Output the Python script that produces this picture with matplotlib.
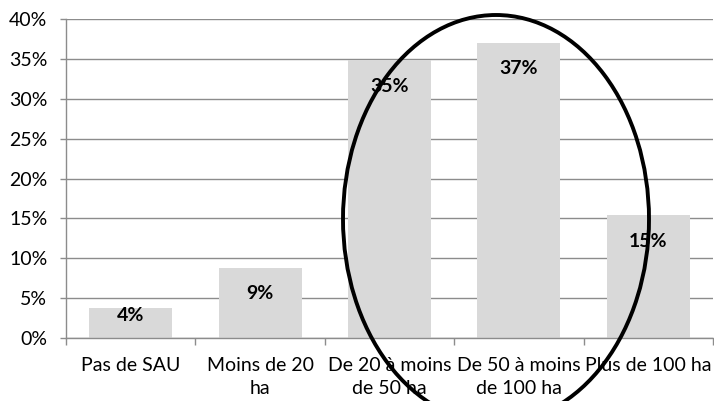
import matplotlib
matplotlib.use("Agg")
import matplotlib.pyplot as plt
from matplotlib.patches import Ellipse
from matplotlib.ticker import FuncFormatter, MultipleLocator

# ── data ──────────────────────────────────────────────────────────────────────
CATEGORIES = ["Pas de SAU", "Moins de 20\nha", "De 20 à moins\nde 50 ha",
              "De 50 à moins\nde 100 ha", "Plus de 100 ha"]
SHARES = [3.8, 8.8, 34.8, 37.0, 15.4]          # percent
LABELS = ["4%", "9%", "35%", "37%", "15%"]

BAR_COLOR = "#d9d9d9"
GRID_COLOR = "#8c8c8c"

plt.rcParams["font.family"] = ["Lato", "DejaVu Sans"]

fig = plt.figure(figsize=(7.14, 4.01), dpi=100)
W, H = 714, 401
ax = fig.add_axes([66 / W, (H - 338) / H, (713 - 66) / W, 319 / H])

x = list(range(len(CATEGORIES)))
ax.bar(x, SHARES, width=0.64, color=BAR_COLOR, zorder=2)

for xi, v, lab in zip(x, SHARES, LABELS):
    ypos = max(v - 3.25, 2.85)
    ax.text(xi, ypos, lab, ha="center", va="center", fontsize=14,
            fontweight="bold", color="black", zorder=3)

ax.set_xlim(-0.5, len(CATEGORIES) - 0.5)
ax.set_ylim(0, 40)
ax.yaxis.set_major_locator(MultipleLocator(5))
ax.yaxis.set_major_formatter(FuncFormatter(lambda v, _: f"{v:.0f}%"))
ax.grid(axis="y", color=GRID_COLOR, lw=1.0, zorder=0)
ax.set_axisbelow(True)

ax.set_xticks(x)
ax.set_xticklabels(CATEGORIES, fontsize=14, linespacing=1.4)
ax.set_xticks([i + 0.5 for i in range(-1, len(CATEGORIES))], minor=True)
ax.tick_params(axis="x", which="major", length=0, pad=14)
ax.tick_params(axis="x", which="minor", length=5, color=GRID_COLOR, width=1.0)
ax.tick_params(axis="y", length=4.5, color=GRID_COLOR, width=1.0,
               labelsize=14, pad=9)

for side in ("top", "right"):
    ax.spines[side].set_visible(False)
for side in ("left", "bottom"):
    ax.spines[side].set_color(GRID_COLOR)
    ax.spines[side].set_linewidth(1.0)

# hand-drawn emphasis ellipse around the larger farms
ell = Ellipse((496 / W, 1 - 219 / H), 306 / W, 408 / H,
              transform=fig.transFigure, fill=False, edgecolor="black",
              lw=2.8, zorder=10, clip_on=False)
fig.patches.append(ell)

fig.savefig("out.png", dpi=100)
